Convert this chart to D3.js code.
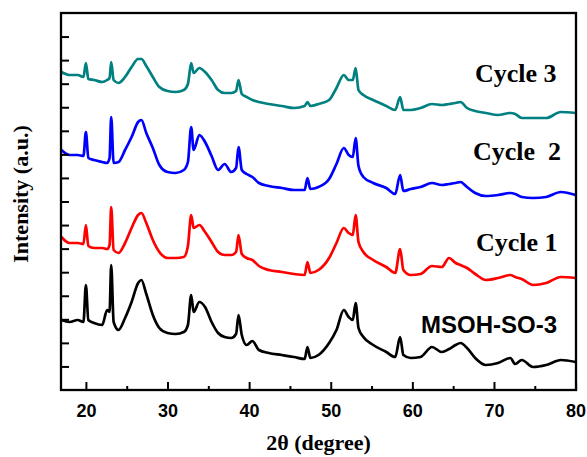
<!DOCTYPE html>
<html lang="en">
  <head>
    <meta charset="UTF-8" />
    <title>XRD cycles</title>
    <script src="https://d3js.org/d3.v7.min.js"></script>
    <style>
      body { margin: 0; background: #fff; }
      svg { display: block; }
    </style>
  </head>
  <body>
    <div id="chart"></div>
    <script>
      // 2theta positions (degree)
      const twoTheta = [17.0, 18.0, 19.0, 19.7, 20.0, 20.3, 21.0, 22.0, 22.6, 22.9, 23.1, 23.4, 24.0, 24.8, 25.6, 26.4, 26.8, 27.4, 28.2, 29.0,
        30.0, 31.0, 32.0, 32.5, 32.9, 33.2, 33.9, 34.6, 35.4, 36.2, 37.0, 37.8, 38.4, 38.7, 39.1, 39.7, 40.4, 41.2, 42.4, 44.0,
        45.5, 46.8, 47.15, 47.5, 48.5, 49.8, 50.7, 51.6, 52.2, 52.7, 53.05, 53.4, 54.0, 55.2, 56.8, 57.9, 58.5, 58.9, 59.8, 61.0,
        62.4, 63.6, 64.5, 65.3, 65.9, 66.7, 67.7, 69.0, 70.5, 72.0, 72.6, 73.4, 74.8, 76.4, 78.2, 80.0];

      // intensities (a.u., already stacked)
      const msoh = [70, 68, 70, 68, 105, 70, 67, 65, 80, 78, 125, 68, 60, 72, 88, 107, 110, 96, 75, 62,
        57, 56, 58, 65, 95, 78, 88, 83, 68, 57, 53, 52, 56, 75, 55, 45, 49, 40, 37, 35,
        33, 31, 43, 32, 35, 47, 60, 80, 73, 70, 87, 62, 53, 45, 38, 33, 53, 35, 32, 33,
        43, 38, 41, 45, 47, 42, 32, 25, 27, 32, 26, 30, 23, 25, 30, 28];
      const cycle1 = [153, 147, 147, 146, 165, 144, 142, 142, 141, 145, 183, 140, 137, 147, 162, 175, 177, 167, 150, 138,
        132, 132, 133, 144, 175, 162, 165, 158, 148, 138, 135, 135, 138, 155, 136, 132, 130, 124, 120, 118,
        116, 115, 128, 117, 120, 132, 147, 162, 157, 155, 175, 148, 138, 130, 123, 117, 141, 120, 115, 116,
        124, 123, 132, 127, 125, 122, 116, 110, 112, 115, 113, 111, 105, 107, 113, 112];
      const cycle2 = [240, 235, 235, 234, 258, 232, 230, 228, 227, 232, 273, 227, 228, 240, 253, 268, 270, 257, 242, 225,
        218, 217, 220, 228, 263, 240, 255, 248, 234, 220, 226, 218, 222, 243, 220, 216, 213, 207, 204, 202,
        200, 200, 212, 201, 203, 211, 226, 242, 235, 233, 252, 224, 213, 207, 202, 196, 215, 199, 201, 203,
        207, 205, 206, 207, 208, 203, 197, 194, 195, 197, 196, 193, 192, 193, 198, 195];
      const cycle3 = [318, 315, 315, 313, 327, 311, 310, 308, 310, 312, 328, 310, 307, 313, 323, 331, 331, 324, 313, 303,
        299, 298, 300, 306, 327, 317, 322, 318, 310, 300, 297, 297, 299, 310, 296, 293, 290, 288, 286, 284,
        282, 284, 288, 284, 286, 290, 302, 315, 310, 310, 322, 300, 295, 290, 284, 280, 293, 280, 280, 282,
        286, 285, 286, 287, 288, 282, 279, 277, 275, 277, 276, 272, 272, 272, 278, 277];

      const seriesNames = ["MSOH-SO-3", "Cycle 1", "Cycle  2", "Cycle 3"];
      const seriesColors = ["#000000", "#ff0000", "#0000ff", "#008080"];
      const xTicks = [20, 30, 40, 50, 60, 70, 80];
      const xMinorTicks = [25, 35, 45, 55, 65, 75];

      const width = 587, height = 457;
      const margin = { top: 13, right: 11, bottom: 67, left: 61 };

      const svg = d3.select("#chart").append("svg")
        .attr("width", width)
        .attr("height", height);

      const x = d3.scaleLinear().domain([16.95, 80.05]).range([margin.left, width - margin.right]);
      const y = d3.scaleLinear().domain([0, 377]).range([height - margin.bottom, margin.top]);

      const line = d3.line()
        .curve(d3.curveMonotoneX)
        .x(d => x(d[0]))
        .y(d => y(d[1]));

      const allSeries = [msoh, cycle1, cycle2, cycle3];
      allSeries.forEach(function (vals, i) {
        svg.append("path")
          .datum(twoTheta.map((t, j) => [t, vals[j]]))
          .attr("fill", "none")
          .attr("stroke", seriesColors[i])
          .attr("stroke-width", 2.7)
          .attr("stroke-linejoin", "round")
          .attr("d", line);
      });

      // bottom axis, ticks pointing inward
      const xAxis = svg.append("g")
        .attr("transform", "translate(0," + y(0) + ")")
        .call(d3.axisBottom(x).tickValues(xTicks).tickSize(-8).tickPadding(14).tickFormat(d3.format("d")));
      xAxis.select(".domain").remove();
      xAxis.selectAll("line").attr("stroke-width", 2);
      xAxis.selectAll("text")
        .attr("font-family", "Liberation Sans, Arial, sans-serif")
        .attr("font-weight", "bold")
        .attr("font-size", 18)
        .attr("fill", "#000");

      const xMinor = svg.append("g")
        .attr("transform", "translate(0," + y(0) + ")")
        .call(d3.axisBottom(x).tickValues(xMinorTicks).tickSize(-4).tickFormat(""));
      xMinor.select(".domain").remove();
      xMinor.selectAll("line").attr("stroke-width", 2);

      // left axis ticks, no labels
      const yAxis = svg.append("g")
        .attr("transform", "translate(" + x(16.95) + ",0)")
        .call(d3.axisLeft(y).tickValues(d3.range(1, 16).map(k => k * 377 / 16)).tickSize(-8).tickFormat(""));
      yAxis.select(".domain").remove();
      yAxis.selectAll("line").attr("stroke-width", 2);

      // frame
      svg.append("rect")
        .attr("x", margin.left)
        .attr("y", margin.top)
        .attr("width", width - margin.left - margin.right)
        .attr("height", height - margin.top - margin.bottom)
        .attr("fill", "none")
        .attr("stroke", "#000")
        .attr("stroke-width", 2.3);

      // series labels
      const labelPos = [[421, 333, "sans"], [476, 251, "serif"], [473, 160, "serif"], [475, 82, "serif"]];
      labelPos.forEach(function (p, i) {
        svg.append("text")
          .attr("x", p[0])
          .attr("y", p[1])
          .attr("font-family", p[2] === "sans" ? "Liberation Sans, Arial, sans-serif" : "Liberation Serif, Times New Roman, serif")
          .attr("font-weight", "bold")
          .attr("font-size", p[2] === "sans" ? 24 : 26)
          .style("white-space", "pre")
          .attr("fill", "#000")
          .text(seriesNames[i]);
      });

      // axis titles
      svg.append("text")
        .attr("x", (margin.left + width - margin.right) / 2)
        .attr("y", 450)
        .attr("text-anchor", "middle")
        .attr("font-family", "Liberation Serif, Times New Roman, serif")
        .attr("font-weight", "bold")
        .attr("font-size", 22)
        .text("2θ (degree)");

      svg.append("text")
        .attr("transform", "translate(28,194) rotate(-90)")
        .attr("text-anchor", "middle")
        .attr("font-family", "Liberation Serif, Times New Roman, serif")
        .attr("font-weight", "bold")
        .attr("font-size", 22)
        .text("Intensity (a.u.)");
    </script>
  </body>
</html>
